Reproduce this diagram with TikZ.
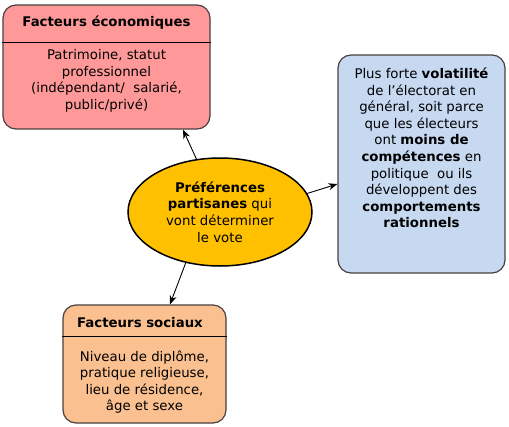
\documentclass[tikz,border=0pt]{standalone}
\usepackage{fontspec}
\setmainfont{DejaVu Sans}
\usetikzlibrary{shapes.geometric,arrows.meta}
\definecolor{ecofill}{HTML}{FF9999}
\definecolor{socfill}{HTML}{FAC090}
\definecolor{volfill}{HTML}{C6D9F1}
\definecolor{ellfill}{HTML}{FFC000}
\definecolor{boxline}{HTML}{4A4040}
\tikzset{
  box/.style={draw=boxline, line width=1.2pt, rounded corners=13pt, inner sep=0pt},
  txt/.style={align=center, inner sep=0pt, font=\fontsize{13.3}{16.6}\selectfont},
  ttl/.style={inner sep=0pt, font=\fontsize{13.3}{16.6}\selectfont\bfseries},
  arr/.style={-{Stealth[length=9pt,width=7pt]}, line width=0.9pt, black},
}
\begin{document}
\begin{tikzpicture}[x=1pt,y=-1pt]
\useasboundingbox (0,0) rectangle (509,426);
% economic factors
\node[box, fill=ecofill, minimum width=207pt, minimum height=124pt] (eco) at (106.5,67) {};
\draw[line width=0.8pt, black] (eco.west |- 0,42) coordinate (ecoL) -- (eco.east |- 0,42) coordinate (ecoR);
\node[ttl] (ecot) at (106.5,23) {Facteurs économiques};
\node[txt] (ecob) at (106.5,81) {Patrimoine, statut\\professionnel\\(indépendant/\ \ salarié,\\public/privé)};
% volatility
\node[box, fill=volfill, minimum width=167pt, minimum height=218pt] (vol) at (421.5,164) {};
\node[txt] (volt) at (421.5,148) {Plus forte \textbf{volatilité}\\de l’électorat en\\général, soit parce\\que les électeurs\\ont \textbf{moins de}\\\textbf{compétences} en\\politique\ \ ou ils\\développent des\\\textbf{comportements}\\\textbf{rationnels}};
% social factors
\node[box, fill=socfill, minimum width=163pt, minimum height=118pt] (soc) at (144.5,364) {};
\draw[line width=0.8pt, black] (soc.west |- 0,336) coordinate (socL) -- (soc.east |- 0,336) coordinate (socR);
\node[ttl] (soct) at (140,323) {Facteurs sociaux};
\node[txt] (socb) at (144.5,382) {Niveau de diplôme,\\pratique religieuse,\\lieu de résidence,\\âge et sexe};
% ellipse
\node[ellipse, draw=black, line width=1.5pt, fill=ellfill, minimum width=184pt, minimum height=108pt, inner sep=0pt] (ell) at (220,212) {};
\node[txt] (ellt) at (220,212) {\textbf{Préférences}\\\textbf{partisanes} qui\\vont déterminer\\le vote};
% arrows
\coordinate (x1) at (183,0);
\coordinate (y2) at (0,184);
\coordinate (x3) at (170,0);
\draw[arr] (ell.114) -- (eco.south -| x1);
\draw[arr] (ell.12) -- (vol.west |- y2);
\draw[arr] (ell.236) -- (soc.north -| x3);
\end{tikzpicture}
\end{document}
